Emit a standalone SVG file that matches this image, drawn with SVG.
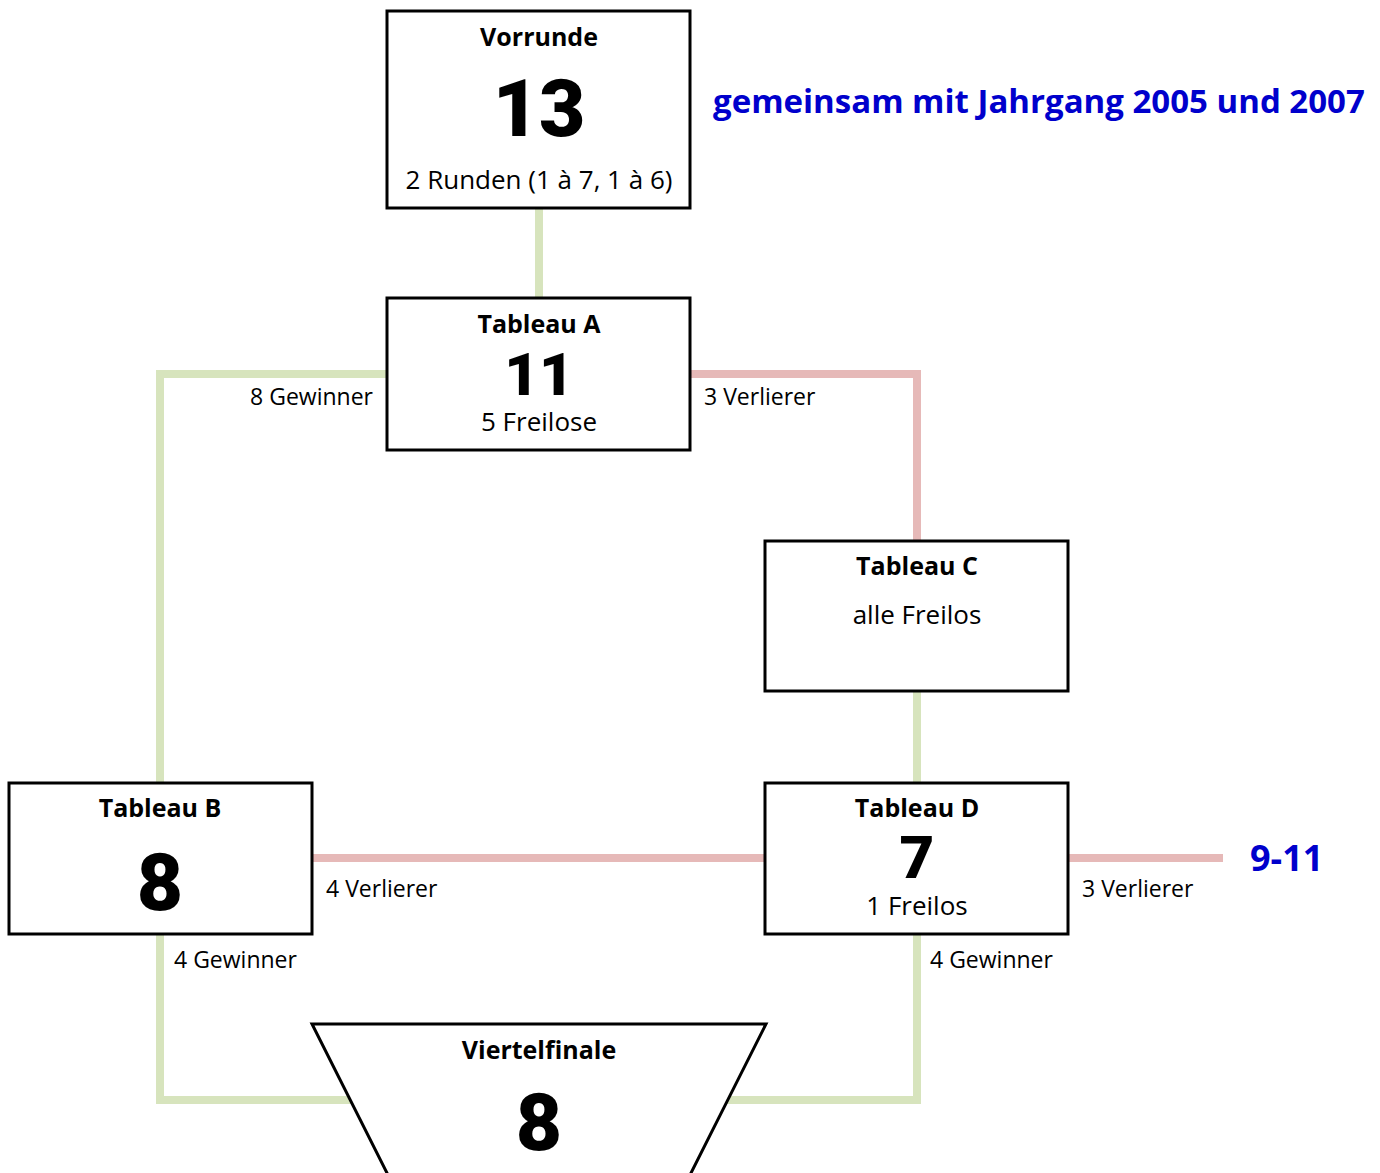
<svg xmlns="http://www.w3.org/2000/svg" width="1380" height="1173" viewBox="0 0 1380 1173">
<style>
text{font-family:"Open Sans","Noto Sans","Liberation Sans",sans-serif;fill:#000}
.t{font-weight:700;font-size:25px;text-anchor:middle}
.n{font-family:Roboto,"Noto Sans",sans-serif;font-weight:900;font-size:80px;text-anchor:middle}
.m{font-family:Roboto,"Noto Sans",sans-serif;font-weight:900;font-size:60px;text-anchor:middle}
.s{font-size:26px;text-anchor:middle}
.l{font-size:23px}
.box{fill:#fff;stroke:#000;stroke-width:3}
.g{fill:none;stroke:#d7e4bd;stroke-width:8}
.r{fill:none;stroke:#e6b9b8;stroke-width:8}
.blue{fill:#0000cc;font-weight:700}
</style>
<g id="connectors">
<line class="g" x1="539" y1="208" x2="539" y2="298"/>
<polyline class="g" points="387,374 160,374 160,783"/>
<polyline class="r" points="690,374 917,374 917,541"/>
<line class="g" x1="917" y1="691" x2="917" y2="783"/>
<line class="r" x1="312" y1="858" x2="765" y2="858"/>
<line class="r" x1="1068" y1="858" x2="1223" y2="858"/>
<polyline class="g" points="160,934 160,1100 917,1100 917,934"/>
<text class="l" x="373" y="405" text-anchor="end">8 Gewinner</text>
<text class="l" x="704" y="405">3 Verlierer</text>
<text class="l" x="326" y="897">4 Verlierer</text>
<text class="l" x="1082" y="897">3 Verlierer</text>
<text class="l" x="174" y="968">4 Gewinner</text>
<text class="l" x="930" y="968">4 Gewinner</text>
</g>
<g id="vorrunde">
<rect class="box" x="387" y="11" width="303" height="197"/>
<text class="t" x="539" y="46">Vorrunde</text>
<text class="n" x="539" y="136">13</text>
<text class="s" x="539" y="189">2 Runden (1 à 7, 1 à 6)</text>
</g>
<g id="note">
<text class="blue" x="713" y="113" font-size="33">gemeinsam mit Jahrgang 2005 und 2007</text>
</g>
<g id="tableauA">
<rect class="box" x="387" y="298" width="303" height="152"/>
<text class="t" x="539" y="333">Tableau A</text>
<text class="m" x="539" y="395">11</text>
<text class="s" x="539" y="431">5 Freilose</text>
</g>
<g id="tableauC">
<rect class="box" x="765" y="541" width="303" height="150"/>
<text class="t" x="917" y="575">Tableau C</text>
<text class="s" x="917" y="624">alle Freilos</text>
</g>
<g id="tableauB">
<rect class="box" x="9" y="783" width="303" height="151"/>
<text class="t" x="160" y="817">Tableau B</text>
<text class="n" x="160" y="910">8</text>
</g>
<g id="tableauD">
<rect class="box" x="765" y="783" width="303" height="151"/>
<text class="t" x="917" y="817">Tableau D</text>
<text class="m" x="917" y="878">7</text>
<text class="s" x="917" y="915">1 Freilos</text>
</g>
<g id="range">
<text class="blue" x="1250" y="871" font-size="36">9-11</text>
</g>
<g id="viertelfinale">
<polygon class="box" points="312,1024 766,1024 690,1175 388,1175"/>
<text class="t" x="539" y="1059">Viertelfinale</text>
<text class="n" x="539" y="1150">8</text>
</g>
</svg>
